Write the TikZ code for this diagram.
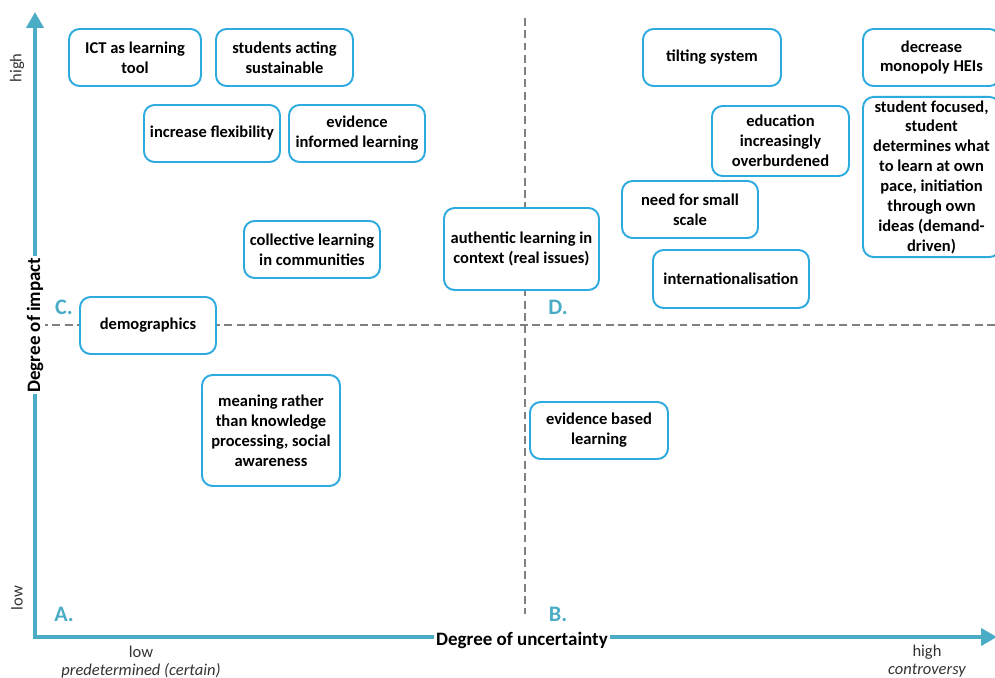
\documentclass[tikz,border=0pt]{standalone}
\usepackage{fontspec}
\setmainfont{Carlito}
\usetikzlibrary{arrows.meta,positioning}

\definecolor{axisblue}{RGB}{75,172,198}
\definecolor{boxblue}{RGB}{45,170,222}
\definecolor{dashgray}{RGB}{128,128,128}

\tikzset{
  idea/.style={draw=boxblue, line width=1.1pt, rounded corners=6pt, fill=white,
    align=center, inner sep=2pt, font=\fontsize{9.4}{11.3}\selectfont\bfseries},
  axisline/.style={axisblue, line width=2.2pt},
  quadrant/.style={text=axisblue, font=\fontsize{12.6}{14}\selectfont\bfseries},
  ticklabel/.style={text=black!80, font=\fontsize{9.4}{11}\selectfont},
  axislabel/.style={fill=white, inner sep=1pt, font=\fontsize{10.8}{13}\selectfont\bfseries},
  quarterline/.style={dashgray, line width=0.8pt, dash pattern=on 4.5pt off 2.5pt}
}

\begin{document}
\begin{tikzpicture}[x=0.02cm, y=-0.02cm]
  % Canvas
  \useasboundingbox (0,0) rectangle (995,678);
  \clip (0,0) rectangle (995,678);

  % Define points
  \coordinate (origin) at (35,637);
  \coordinate (ytop) at (35,12);
  \coordinate (xend) at (997,637);
  \coordinate (vtop) at (525,18);
  \coordinate (vbot) at (525,614);
  \coordinate (hleft) at (40,325);
  \coordinate (hright) at (995,325);

  % Draw quadrant lines
  \draw[quarterline] (vtop) -- (vbot);
  \draw[quarterline] (hleft) -- (hright);

  % Draw axes
  \draw[axisline, {Triangle[length=0.32cm,width=0.34cm]}-{Triangle[length=0.32cm,width=0.34cm]}]
    (ytop) -- (origin) -- (xend);

  % Axis labels
  \node[axislabel, rotate=90] (impact) at (35,325) {Degree of impact};
  \node[axislabel] (uncertainty) at (522,640) {Degree of uncertainty};
  \node[ticklabel, rotate=90] (yhigh) at (17,68) {high};
  \node[ticklabel, rotate=90] (ylow) at (17,598) {low};
  \node[ticklabel] (xlow) at (141,652) {low};
  \node[ticklabel, below=-4pt of xlow] (certain) {\itshape predetermined (certain)};
  \node[ticklabel] (xhigh) at (927,652) {high};
  \node[ticklabel, below=-4pt of xhigh] (controversy) {\itshape controversy};

  % Quadrant letters
  \node[quadrant] (qc) at (64,307) {C.};
  \node[quadrant] (qd) at (558,307) {D.};
  \node[quadrant] (qa) at (64,614) {A.};
  \node[quadrant] (qb) at (558,614) {B.};

  % Boxes, left half
  \node[idea, minimum width=2.64cm, minimum height=1.14cm] (ict) at (135,57.5) {ICT as learning\\tool};
  \node[idea, minimum width=2.74cm, minimum height=1.14cm] (acting) at (284.5,57.5) {students acting\\sustainable};
  \node[idea, minimum width=2.72cm, minimum height=1.14cm] (flex) at (212,133.5) {increase flexibility};
  \node[idea, minimum width=2.72cm, minimum height=1.14cm] (informed) at (357,133.5) {evidence\\informed learning};
  \node[idea, minimum width=2.72cm, minimum height=1.14cm] (collective) at (312,249.5) {collective learning\\in communities};
  \node[idea, minimum width=2.72cm, minimum height=1.14cm] (demo) at (148,325.5) {demographics};
  \node[idea, minimum width=2.76cm, minimum height=2.22cm] (meaning) at (271,430.5) {meaning rather\\than knowledge\\processing, social\\awareness};

  % Boxes, right half
  \node[idea, minimum width=3.10cm, minimum height=1.64cm] (authentic) at (521.5,249) {authentic learning in\\context (real issues)};
  \node[idea, minimum width=2.76cm, minimum height=1.14cm] (based) at (599,430.5) {evidence based\\learning};
  \node[idea, minimum width=2.76cm, minimum height=1.14cm] (tilting) at (712,57.5) {tilting system};
  \node[idea, minimum width=2.74cm, minimum height=1.14cm] (monopoly) at (931.5,57.5) {decrease\\monopoly HEIs};
  \node[idea, minimum width=2.74cm, minimum height=1.40cm] (burden) at (780.5,141) {education\\increasingly\\overburdened};
  \node[idea, minimum width=2.74cm, minimum height=3.16cm] (focused) at (931.5,177) {student focused,\\student\\determines what\\to learn at own\\pace, initiation\\through own\\ideas (demand-\\driven)};
  \node[idea, minimum width=2.72cm, minimum height=1.14cm] (small) at (690,209.5) {need for small\\scale};
  \node[idea, minimum width=3.12cm, minimum height=1.16cm] (intl) at (731,279) {internationalisation};
\end{tikzpicture}
\end{document}
